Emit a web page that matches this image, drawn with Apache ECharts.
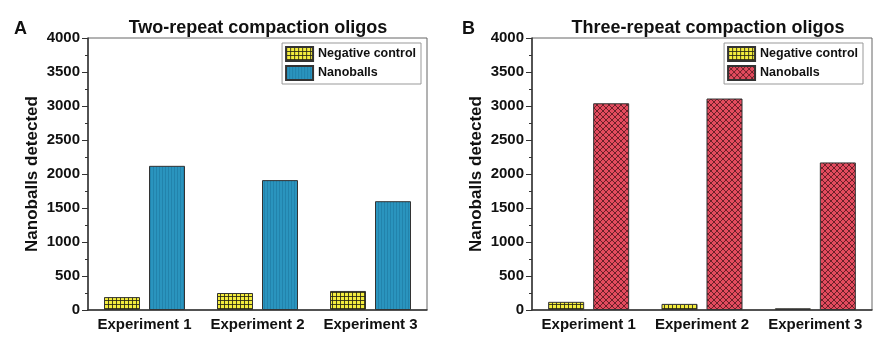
<!DOCTYPE html>
<html>
<head>
<meta charset="utf-8">
<script src="https://cdn.jsdelivr.net/npm/echarts@6/dist/echarts.min.js"></script>
<style>
  html, body { margin: 0; padding: 0; background: #fff; }
  #chart { width: 879px; height: 341px; }
</style>
</head>
<body>
<div id="chart"></div>
<script>
// Categories and counts for both panels
const experiments = ['Experiment 1', 'Experiment 2', 'Experiment 3'];
const twoRepeatNegative = [190, 250, 280];
const twoRepeatNanoballs = [2120, 1910, 1600];
const threeRepeatNegative = [120, 90, 25];
const threeRepeatNanoballs = [3040, 3110, 2170];
const yTicks = [0, 500, 1000, 1500, 2000, 2500, 3000, 3500, 4000];
const panelTitles = ['Two-repeat compaction oligos', 'Three-repeat compaction oligos'];
const panelLetters = ['A', 'B'];
const seriesNames = ['Negative control', 'Nanoballs'];

const FONT = '"Liberation Sans", Arial, sans-serif';

// Hatch fills drawn on small tiles
function gridTile() {
  const c = document.createElement('canvas');
  c.width = 4; c.height = 4;
  const g = c.getContext('2d');
  g.fillStyle = '#f3ec3e';
  g.fillRect(0, 0, 4, 4);
  g.fillStyle = 'rgba(40,40,20,0.85)';
  g.fillRect(0, 0, 4, 1);
  g.fillRect(0, 0, 1, 4);
  return c;
}
function stripeTile() {
  const c = document.createElement('canvas');
  c.width = 3; c.height = 4;
  const g = c.getContext('2d');
  g.fillStyle = '#2a94be';
  g.fillRect(0, 0, 3, 4);
  g.fillStyle = 'rgba(20,100,140,0.35)';
  g.fillRect(0, 0, 1, 4);
  return c;
}
function crossTile() {
  const s = 6;
  const c = document.createElement('canvas');
  c.width = s; c.height = s;
  const g = c.getContext('2d');
  g.fillStyle = '#e34b5e';
  g.fillRect(0, 0, s, s);
  g.strokeStyle = 'rgba(60,15,20,0.9)';
  g.lineWidth = 0.8;
  g.beginPath();
  g.moveTo(0, 0); g.lineTo(s, s);
  g.moveTo(s, 0); g.lineTo(0, s);
  g.stroke();
  return c;
}
const yellowFill = { image: gridTile(), repeat: 'repeat' };
const blueFill = { image: stripeTile(), repeat: 'repeat' };
const redFill = { image: crossTile(), repeat: 'repeat' };

const grids = [
  { left: 88, right: 452, top: 38, bottom: 31 },
  { left: 532, right: 7, top: 38, bottom: 31 }
];

function xAxis(i) {
  return {
    type: 'category', gridIndex: i, data: experiments,
    axisLine: { lineStyle: { color: '#333', width: 1.5 } },
    axisTick: { show: false },
    axisLabel: { interval: 0, color: '#111', fontFamily: FONT, fontWeight: 'bold', fontSize: 15, margin: 7 }
  };
}
function yAxis(i) {
  return {
    type: 'value', gridIndex: i, min: yTicks[0], max: yTicks[yTicks.length - 1], interval: 500,
    name: 'Nanoballs detected', nameLocation: 'middle', nameGap: 47,
    nameTextStyle: { color: '#111', fontFamily: FONT, fontWeight: 'bold', fontSize: 17 },
    axisLine: { show: true, lineStyle: { color: '#333', width: 1.5 } },
    axisTick: { show: true, length: 6, lineStyle: { color: '#333' } },
    minorTick: { show: true, splitNumber: 2, length: 3, lineStyle: { color: '#333' } },
    splitLine: { show: false },
    axisLabel: { color: '#111', fontFamily: FONT, fontWeight: 'bold', fontSize: 15, margin: 8,
      formatter: v => String(v) }
  };
}

function bar(name, data, fill, i) {
  return {
    name: name, type: 'bar', xAxisIndex: i, yAxisIndex: i, data: data,
    barWidth: 36, barGap: '25%',
    itemStyle: { color: fill, borderColor: '#333', borderWidth: 1 }
  };
}

function legend(right, items) {
  return {
    data: items,
    orient: 'vertical', right: right, top: 43,
    icon: 'rect',
    itemWidth: 27, itemHeight: 14, itemGap: 3,
    padding: [3, 5, 3, 3],
    borderColor: '#999', borderWidth: 1,
    selectedMode: false,
    formatter: n => n.trim(),
    textStyle: { color: '#111', fontFamily: FONT, fontWeight: 'bold', fontSize: 12.5 }
  };
}

const chart = echarts.init(document.getElementById('chart'), null, { renderer: 'canvas' });
chart.setOption({
  animation: false,
  backgroundColor: '#fff',
  title: [
    { text: panelTitles[0], left: 253, top: 14, textAlign: 'center',
      textStyle: { color: '#111', fontFamily: FONT, fontWeight: 'bold', fontSize: 18 } },
    { text: panelTitles[1], left: 703, top: 14, textAlign: 'center',
      textStyle: { color: '#111', fontFamily: FONT, fontWeight: 'bold', fontSize: 18 } },
    { text: panelLetters[0], left: 9, top: 15,
      textStyle: { color: '#111', fontFamily: FONT, fontWeight: 'bold', fontSize: 18 } },
    { text: panelLetters[1], left: 457, top: 15,
      textStyle: { color: '#111', fontFamily: FONT, fontWeight: 'bold', fontSize: 18 } }
  ],
  grid: grids.map(g => Object.assign({ show: true, borderColor: '#666', borderWidth: 1 }, g)),
  xAxis: [xAxis(0), xAxis(1)],
  yAxis: [yAxis(0), yAxis(1)],
  legend: [
    legend(879 - 421, [
      { name: seriesNames[0], itemStyle: { color: yellowFill } },
      { name: seriesNames[1], itemStyle: { color: blueFill } }
    ]),
    legend(879 - 863, [
      { name: seriesNames[0] + ' ', itemStyle: { color: yellowFill } },
      { name: seriesNames[1] + ' ', itemStyle: { color: redFill } }
    ])
  ],
  series: [
    bar(seriesNames[0], twoRepeatNegative, yellowFill, 0),
    bar(seriesNames[1], twoRepeatNanoballs, blueFill, 0),
    bar(seriesNames[0] + ' ', threeRepeatNegative, yellowFill, 1),
    bar(seriesNames[1] + ' ', threeRepeatNanoballs, redFill, 1)
  ]
});
</script>
</body>
</html>
